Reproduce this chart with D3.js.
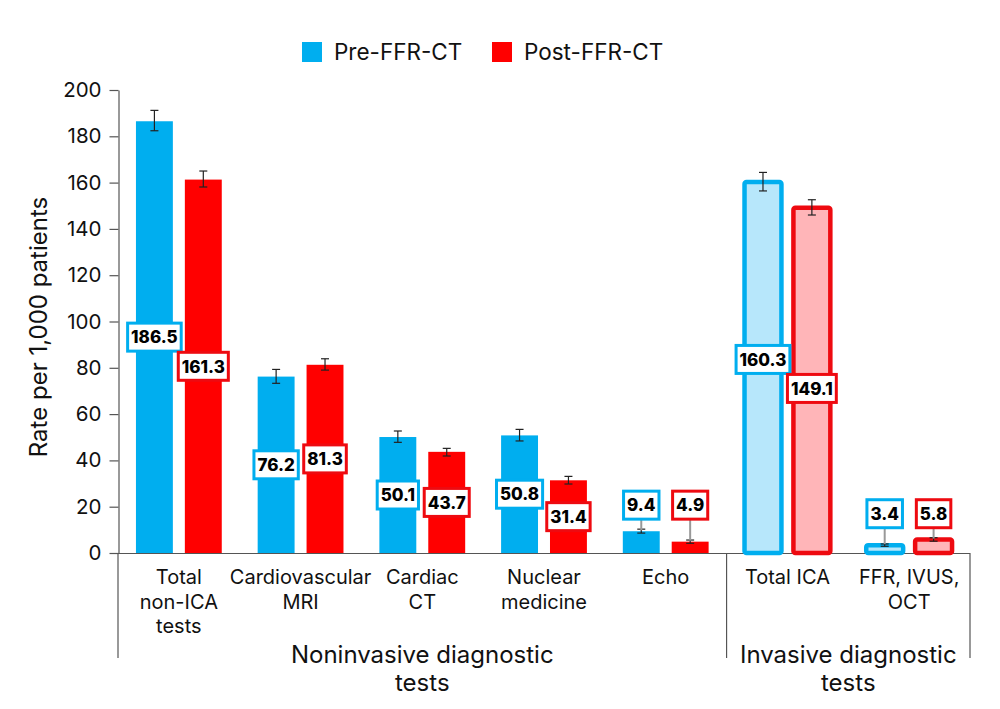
<!DOCTYPE html>
<html>
<head>
<meta charset="utf-8">
<script src="https://cdn.jsdelivr.net/npm/d3@7"></script>
<style>
  html, body { margin: 0; padding: 0; background: #fff; }
  svg { display: block; }
  text { font-family: Inter, "Noto Sans", sans-serif; }
</style>
</head>
<body>
<svg id="chart" width="1000" height="709"></svg>
<script>
// ---- data ----
const categories = ["Total non-ICA tests", "Cardiovascular MRI", "Cardiac CT", "Nuclear medicine", "Echo", "Total ICA", "FFR, IVUS, OCT"];
const categoryLines = [["Total", "non-ICA", "tests"], ["Cardiovascular", "MRI"], ["Cardiac", "CT"], ["Nuclear", "medicine"], ["Echo"], ["Total ICA"], ["FFR, IVUS,", "OCT"]];
const seriesNames = ["Pre-FFR-CT", "Post-FFR-CT"];
const preValues  = [186.5, 76.2, 50.1, 50.8, 9.4, 160.3, 3.4];
const postValues = [161.3, 81.3, 43.7, 31.4, 4.9, 149.1, 5.8];
const preLow   = [182.4, 73.3, 47.8, 48.4, 8.6, 156.4, 2.9];
const preHigh  = [191.2, 79.3, 52.7, 53.4, 10.3, 164.4, 3.9];
const postLow  = [158.1, 79.0, 41.9, 29.8, 4.2, 146.0, 5.1];
const postHigh = [165.0, 83.9, 45.2, 33.1, 5.6, 152.6, 6.6];
const invasiveFlags = [false, false, false, false, false, true, true];
const groupNames = [["Noninvasive diagnostic", "tests"], ["Invasive diagnostic", "tests"]];
const yTicks = [0, 20, 40, 60, 80, 100, 120, 140, 160, 180, 200];

// ---- styles ----
const BLUE = "#00AEEF", RED = "#FF0000";
const BLUE_LIGHT = "#B7E7FB", RED_LIGHT = "#FFB5B8";
const RED_STROKE = "#EE0A10";

const svg = d3.select("#chart");

const x0 = d3.scaleBand().domain(categories).range([118, 970]).paddingInner(0.295).paddingOuter(0.1475);
const x1 = d3.scaleBand().domain(seriesNames).range([0, x0.bandwidth()]).paddingInner(0.245);
const y = d3.scaleLinear().domain([0, 200]).range([553, 90]);

// y axis
const yAxis = svg.append("g").attr("transform", "translate(118.5,0)")
  .call(d3.axisLeft(y).tickValues(yTicks).tickSize(9).tickPadding(8).tickSizeOuter(0));
yAxis.select(".domain").attr("stroke", "#555").attr("stroke-width", 1.2);
yAxis.selectAll(".tick line").attr("stroke", "#555").attr("stroke-width", 1.2);
yAxis.selectAll(".tick text").attr("font-size", 20.5).attr("fill", "#111")
  .style("font-family", "Inter, sans-serif");

svg.append("text").attr("transform", "translate(47,327) rotate(-90)")
  .attr("text-anchor", "middle").attr("font-size", 24).attr("fill", "#111")
  .text("Rate per 1,000 patients");

// x axis line and separators
const [xr0, xr1] = x0.range();
svg.append("line").attr("x1", xr0).attr("x2", xr1).attr("y1", 553.5).attr("y2", 553.5)
  .attr("stroke", "#555").attr("stroke-width", 1.2);
const sepXs = [xr0, x0(categories[5]) - x0.step() * x0.paddingInner() / 2, xr1];
sepXs.forEach(sx => {
  svg.append("line").attr("x1", sx).attr("x2", sx).attr("y1", 553).attr("y2", 658)
    .attr("stroke", "#555").attr("stroke-width", 1.2);
});

// data rows
const rows = categories.map((c, i) => ({
  cat: c, i,
  bars: [
    { s: seriesNames[0], v: preValues[i], lo: preLow[i], hi: preHigh[i], color: BLUE, light: BLUE_LIGHT, stroke: BLUE },
    { s: seriesNames[1], v: postValues[i], lo: postLow[i], hi: postHigh[i], color: RED, light: RED_LIGHT, stroke: RED_STROKE }
  ],
  invasive: invasiveFlags[i]
}));

const BOX_H = 28, BOX_PAD = 7;
const g = svg.append("g");
rows.forEach(r => {
  const gx = x0(r.cat);
  const groupTop = d3.max(r.bars, b => b.hi);
  r.bars.forEach(b => {
    const bx = gx + x1(b.s), bw = x1.bandwidth();
    if (r.invasive) {
      g.append("rect").attr("x", bx).attr("y", y(b.v)).attr("width", bw).attr("height", y(0) - y(b.v))
        .attr("fill", b.light).attr("stroke", b.stroke).attr("stroke-width", 4.5).attr("rx", 2);
    } else {
      g.append("rect").attr("x", bx).attr("y", y(b.v)).attr("width", bw).attr("height", y(0) - y(b.v))
        .attr("fill", b.color);
    }
  });
  // error bars
  r.bars.forEach(b => {
    const cx = gx + x1(b.s) + x1.bandwidth() / 2;
    const eg = g.append("g").attr("stroke", "#222").attr("stroke-width", 1.2);
    eg.append("line").attr("x1", cx).attr("x2", cx).attr("y1", y(b.hi)).attr("y2", y(b.lo));
    eg.append("line").attr("x1", cx - 4).attr("x2", cx + 4).attr("y1", y(b.hi)).attr("y2", y(b.hi));
    eg.append("line").attr("x1", cx - 4).attr("x2", cx + 4).attr("y1", y(b.lo)).attr("y2", y(b.lo));
  });
  // labels: build text first to measure
  const labels = r.bars.map(b => {
    const cx = gx + x1(b.s) + x1.bandwidth() / 2;
    const lg = g.append("g");
    const t = lg.append("text").attr("x", cx).attr("dy", "0.37em")
      .attr("text-anchor", "middle").attr("font-size", 17).attr("font-weight", 800)
      .attr("fill", "#000").text(b.v.toFixed(1));
    const w = t.node().getComputedTextLength() + BOX_PAD;
    const small = b.v < 15;
    return { b, cx, lg, t, w, small, cy: small ? y(groupTop) - 24 : y(b.v / 2) };
  });
  const [a, c] = labels;
  const hOverlap = (a.w + c.w) / 2 + 3 > Math.abs(c.cx - a.cx);
  if (!a.small && !c.small && hOverlap && Math.abs(a.cy - c.cy) < BOX_H + 1) {
    const mid = (a.cy + c.cy) / 2, half = (BOX_H + 1) / 2;
    const s = a.cy < c.cy ? 1 : -1;
    a.cy = mid - s * half; c.cy = mid + s * half;
  }
  labels.forEach(L => {
    L.t.attr("y", L.cy);
    if (L.small) {
      L.lg.insert("line", "text").attr("x1", L.cx).attr("x2", L.cx).attr("y1", L.cy + BOX_H / 2).attr("y2", y(L.b.v) - 1)
        .attr("stroke", "#999").attr("stroke-width", 2);
    }
    L.lg.insert("rect", "text").attr("x", L.cx - L.w / 2).attr("y", L.cy - BOX_H / 2).attr("width", L.w).attr("height", BOX_H)
      .attr("fill", "#fff").attr("stroke", L.b.stroke).attr("stroke-width", 3);
  });
  // category labels
  const lt = svg.append("text").attr("text-anchor", "middle").attr("font-size", 20).attr("fill", "#111");
  categoryLines[r.i].forEach((ln, k) => {
    lt.append("tspan").attr("x", gx + x0.bandwidth() / 2).attr("y", 584 + k * 24.5).text(ln);
  });
});

// group labels
groupNames.forEach((lines, gi) => {
  const left = sepXs[gi], right = sepXs[gi + 1];
  const cx = (left + right) / 2;
  const t = svg.append("text").attr("text-anchor", "middle").attr("font-size", 24).attr("fill", "#111");
  lines.forEach((ln, k) => {
    t.append("tspan").attr("x", cx).attr("y", 663 + k * 27.5).text(ln);
  });
});

// legend
const legend = svg.append("g");
const legendX = [302, 492];
seriesNames.forEach((s, i) => {
  legend.append("rect").attr("x", legendX[i]).attr("y", 42).attr("width", 20).attr("height", 20)
    .attr("fill", i === 0 ? BLUE : RED);
  legend.append("text").attr("x", legendX[i] + 32).attr("y", 52).attr("dy", "0.36em")
    .attr("font-size", 22.5).attr("fill", "#111").text(s);
});
</script>
</body>
</html>
